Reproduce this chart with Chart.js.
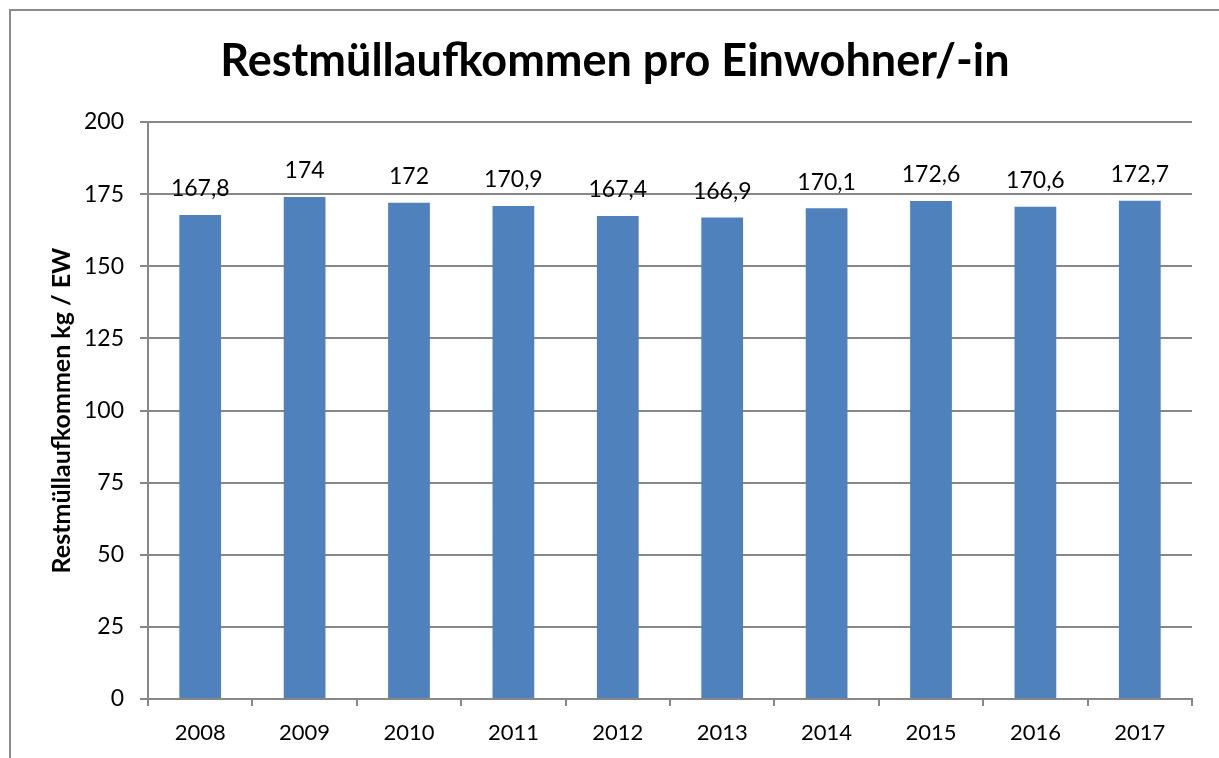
<!DOCTYPE html>
<html>
<head>
<meta charset="utf-8">
<script src="https://cdn.jsdelivr.net/npm/chart.js@4"></script>
<style>
  html, body { margin: 0; padding: 0; background: #fff; }
  #wrap { width: 1219px; height: 758px; position: relative; }
</style>
</head>
<body>
<div id="wrap"><canvas id="chart"></canvas></div>
<script>
// Restmüll per inhabitant, kg / EW
const years  = ['2008', '2009', '2010', '2011', '2012', '2013', '2014', '2015', '2016', '2017'];
const values = [167.8, 174, 172, 170.9, 167.4, 166.9, 170.1, 172.6, 170.6, 172.7];
const yTicks = [0, 25, 50, 75, 100, 125, 150, 175, 200];
const chartTitle = 'Restmüllaufkommen pro Einwohner/-in';

const FONT = 'Lato, "Open Sans", sans-serif';
const BAR  = '#4F81BD';
const LINE = '#878787';

function fmt(v) {
  return String(v).replace('.', ',');
}

// outer frame of the chart object plus the heading
const framePlugin = {
  id: 'frame',
  beforeDraw(chart) {
    const c = chart.ctx;
    c.save();
    c.fillStyle = '#fff';
    c.fillRect(0, 0, chart.width, chart.height);
    c.strokeStyle = '#8c8c8c';
    c.lineWidth = 2;
    c.strokeRect(10, 10, chart.width + 20, chart.height + 20);
    c.font = 'bold 45px ' + FONT;
    c.fillStyle = '#000';
    c.textAlign = 'center';
    c.textBaseline = 'alphabetic';
    c.fillText(chartTitle, 615, 76);
    c.restore();
  }
};

// value labels above each bar
const valueLabels = {
  id: 'valueLabels',
  afterDatasetsDraw(chart) {
    const c = chart.ctx;
    const meta = chart.getDatasetMeta(0);
    c.save();
    c.font = '23px ' + FONT;
    c.fillStyle = '#000';
    c.textAlign = 'center';
    c.textBaseline = 'middle';
    meta.data.forEach((bar, i) => {
      c.fillText(fmt(values[i]), bar.x, bar.y - 26);
    });
    c.restore();
  }
};

new Chart(document.getElementById('chart'), {
  type: 'bar',
  data: {
    labels: years,
    datasets: [{
      data: values,
      backgroundColor: BAR,
      borderWidth: 0,
      barPercentage: 0.4,
      categoryPercentage: 1.0,
    }]
  },
  plugins: [framePlugin, valueLabels],
  options: {
    responsive: true,
    maintainAspectRatio: false,
    animation: false,
    layout: { padding: { left: 0, right: 27, top: 122, bottom: 0 } },
    plugins: {
      legend: { display: false },
      tooltip: { enabled: false },
      title: { display: false }
    },
    scales: {
      x: {
        grid: {
          offset: true,
          drawOnChartArea: false,
          drawTicks: true,
          tickLength: 7,
          color: LINE,
          lineWidth: 2,
        },
        border: { color: LINE, width: 2 },
        ticks: {
          color: '#000',
          font: { family: FONT, size: 22 },
          padding: 14,
        },
        afterFit(scale) { scale.height = 59; }
      },
      y: {
        min: 0,
        max: 200,
        afterBuildTicks(scale) {
          scale.ticks = yTicks.map(v => ({ value: v }));
        },
        grid: {
          color: LINE,
          lineWidth: 2,
          tickLength: 8,
        },
        border: { color: LINE, width: 2 },
        ticks: {
          color: '#000',
          font: { family: FONT, size: 23 },
          padding: 16,
        },
        title: {
          display: true,
          text: 'Restmüllaufkommen kg / EW',
          color: '#000',
          font: { family: FONT, size: 25, weight: 'bold', lineHeight: 1.2 },
          padding: { top: 47, bottom: 0 },
        },
        afterFit(scale) { scale.width = 148; }
      }
    }
  }
});
</script>
</body>
</html>
